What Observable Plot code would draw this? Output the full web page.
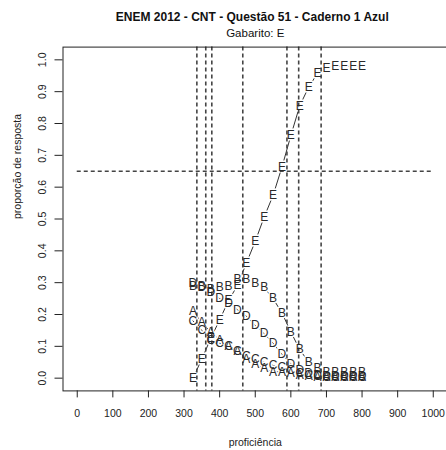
<!DOCTYPE html>
<html>
<head>
<meta charset="utf-8">
<script src="https://cdn.jsdelivr.net/npm/d3@7"></script>
<script src="https://cdn.jsdelivr.net/npm/@observablehq/plot@0.6"></script>
<style>
  html, body { margin: 0; padding: 0; background: #fff; }
  svg { font-family: "Liberation Sans", Arial, sans-serif; }
</style>
</head>
<body>
<div id="chart"></div>
<script>
const titulo = "ENEM 2012 - CNT - Questão 51 - Caderno 1 Azul";
const subtitulo = "Gabarito: E";
const rotuloX = "proficiência";
const rotuloY = "proporção de resposta";

const alternativas = ["A", "B", "C", "D", "E"];
const proficiencia = [325, 350, 375, 400, 425, 450, 475, 500, 525, 550, 575, 600, 625, 650, 675, 700, 725, 750, 775, 800];
const propA = [0.21, 0.175, 0.145, 0.12, 0.10, 0.085, 0.06, 0.045, 0.03, 0.02, 0.02, 0.015, 0.01, 0.005, 0.003, 0.003, 0.003, 0.003, 0.003, 0.003];
const propB = [0.29, 0.29, 0.28, 0.285, 0.29, 0.31, 0.31, 0.30, 0.285, 0.25, 0.205, 0.145, 0.09, 0.05, 0.03, 0.02, 0.02, 0.02, 0.02, 0.02];
const propC = [0.18, 0.15, 0.12, 0.11, 0.10, 0.085, 0.07, 0.06, 0.05, 0.04, 0.035, 0.025, 0.015, 0.01, 0.005, 0.003, 0.003, 0.003, 0.003, 0.003];
const propD = [0.30, 0.285, 0.27, 0.25, 0.235, 0.215, 0.195, 0.165, 0.14, 0.11, 0.075, 0.045, 0.025, 0.015, 0.01, 0.005, 0.005, 0.005, 0.005, 0.005];
const propE = [0.00, 0.06, 0.125, 0.183, 0.244, 0.291, 0.361, 0.43, 0.506, 0.574, 0.663, 0.762, 0.856, 0.914, 0.958, 0.975, 0.98, 0.98, 0.98, 0.98];

const cortes = [336, 361, 378, 465, 589, 622, 685];
const linhaReferencia = [0.65];
const ticksX = [0, 100, 200, 300, 400, 500, 600, 700, 800, 900, 1000];
const ticksY = [0.0, 0.1, 0.2, 0.3, 0.4, 0.5, 0.6, 0.7, 0.8, 0.9, 1.0];

const series = {A: propA, B: propB, C: propC, D: propD, E: propE};
const dados = alternativas.flatMap(alt =>
  proficiencia.map((p, i) => ({alt, prof: p, prop: series[alt][i]}))
);

const ink = "#222";
const chart = Plot.plot({
  width: 446,
  height: 450,
  marginLeft: 62.5,
  marginRight: -1,
  marginTop: 46.6,
  marginBottom: 59.6,
  style: {fontFamily: "'Liberation Sans', Arial, sans-serif", background: "#fff", color: ink},
  x: {domain: [-40, 1040], label: null},
  y: {domain: [-0.04, 1.04], label: null},
  marks: [
    Plot.line(dados, {x: "prof", y: "prop", z: "alt", stroke: "#333", strokeWidth: 1}),
    Plot.text(dados, {x: "prof", y: "prop", text: "alt", fill: "#fff", stroke: "#fff", strokeWidth: 3, fontSize: 12}),
    Plot.ruleX(cortes, {stroke: "#444", strokeWidth: 1.6, strokeDasharray: "4,3"}),
    Plot.ruleY(linhaReferencia, {x1: ticksX[0], x2: ticksX[ticksX.length - 1], stroke: "#444", strokeWidth: 1.6, strokeDasharray: "4,3"}),
    Plot.text(dados, {x: "prof", y: "prop", text: "alt", fill: "#2a2a2a", fontSize: 12}),
    Plot.frame({stroke: ink, strokeWidth: 1}),
    Plot.axisX({ticks: ticksX, tickSize: 7, text: null, label: null, stroke: ink}),
    Plot.axisY({ticks: ticksY, tickSize: 8, text: null, label: null, stroke: ink}),
    Plot.text(ticksX, {x: d => d, frameAnchor: "bottom", dy: 23, text: d => String(d), fontSize: 10.5, fill: ink, lineAnchor: "middle"}),
    Plot.text(ticksY, {y: d => d, frameAnchor: "left", dx: -20.5, rotate: -90, text: d => d.toFixed(1), fontSize: 10.5, fill: ink, textAnchor: "middle", lineAnchor: "middle"}),
    Plot.text([rotuloX], {frameAnchor: "bottom", dy: 51.5, text: d => d, fontSize: 10.5, fill: ink, lineAnchor: "middle"}),
    Plot.text([rotuloY], {frameAnchor: "left", dx: -45, rotate: -90, text: d => d, fontSize: 10.5, fill: ink, lineAnchor: "middle"}),
    Plot.text([titulo], {frameAnchor: "top", dx: -3, dy: -29.6, text: d => d, fontSize: 12, fontWeight: "bold", fill: "#111", lineAnchor: "middle"}),
    Plot.text([subtitulo], {frameAnchor: "top", dy: -14, text: d => d, fontSize: 11.5, fill: "#111", lineAnchor: "middle"})
  ]
});
document.getElementById("chart").appendChild(chart);
</script>
</body>
</html>
